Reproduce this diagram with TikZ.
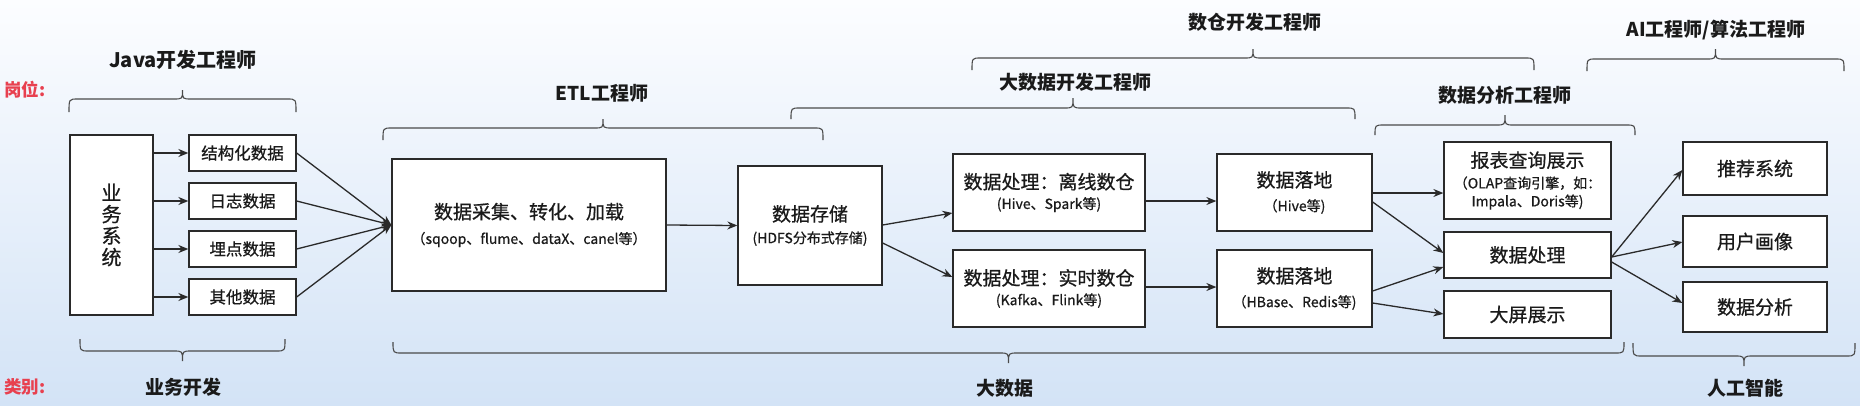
\documentclass[tikz,border=0pt]{standalone}
\usepackage{fontspec}
\setmainfont{Noto Sans CJK SC}
\newfontfamily\boxfont{Noto Sans CJK SC}[FakeBold=0.7]
\usetikzlibrary{arrows.meta,calc}
\definecolor{ln}{HTML}{2A2A2A}
\definecolor{txt}{HTML}{1A1A1A}
\definecolor{redlbl}{HTML}{E8404F}
\definecolor{bgtop}{RGB}{252,253,255}
\definecolor{bgmid}{RGB}{232,240,250}
\definecolor{bgbot}{RGB}{211,227,246}
% #1 x-left, #2 x-right, #3 y of the long line, #4 y of the ends, #5 y of the tip
\newcommand\curlybrace[5]{%
  \draw[brc] (#1,#4) .. controls (#1,#3) .. (#1+9,#3) -- ({(#1+#2)/2-9},#3)
    .. controls ({(#1+#2)/2},#3) .. ({(#1+#2)/2},#5)
    .. controls ({(#1+#2)/2},#3) .. ({(#1+#2)/2+9},#3) -- (#2-9,#3)
    .. controls (#2,#3) .. (#2,#4);}
\begin{document}
\begin{tikzpicture}[x=1pt,y=-1pt,
  box/.style={draw=ln,line width=1.3pt,fill=white,text=txt,align=center,inner sep=0pt},
  arr/.style={draw=ln,line width=1.3pt,-{Stealth[length=10pt,width=8pt]}},
  brc/.style={draw=ln!85,line width=1.1pt},
  lbl/.style={font=\bfseries\fontsize{19}{22}\selectfont,text=txt,inner sep=0pt},
  cat/.style={font=\bfseries\fontsize{17.5}{20}\selectfont,text=redlbl,inner sep=0pt,anchor=west},
  bigtxt/.style={font=\boxfont\fontsize{19}{22}\selectfont},
  smalltxt/.style={font=\boxfont\fontsize{16.5}{20}\selectfont}]
\useasboundingbox (0,0) rectangle (1860,405);
\fill[top color=bgtop,middle color=bgmid,bottom color=bgbot] (0,0) rectangle (1860,405);

% ---------- boxes ----------
\node[box,font=\boxfont\fontsize{20}{21.5}\selectfont,minimum width=83pt,minimum height=180pt] (ywxt) at (111.5,225) {业\\务\\系\\统};
\node[box,smalltxt,minimum width=107pt,minimum height=36pt] (s1) at (242.5,153) {结构化数据};
\node[box,smalltxt,minimum width=107pt,minimum height=36pt] (s2) at (242.5,201) {日志数据};
\node[box,smalltxt,minimum width=107pt,minimum height=36pt] (s3) at (242.5,249) {埋点数据};
\node[box,smalltxt,minimum width=107pt,minimum height=36pt] (s4) at (242.5,297) {其他数据};

\node[box,font=\boxfont\fontsize{19}{25}\selectfont,minimum width=274pt,minimum height=132pt] (etl) at (529,225)
  {数据采集、转化、加载\\{\fontsize{14}{16}\selectfont （sqoop、flume、dataX、canel等）}};
\node[box,font=\boxfont\fontsize{19}{22}\selectfont,minimum width=144pt,minimum height=119pt] (store) at (810,225.5)
  {数据存储\\{\fontsize{14}{16}\selectfont (HDFS分布式存储)}};

\node[box,font=\boxfont\fontsize{19}{20}\selectfont,minimum width=192pt,minimum height=77pt] (off) at (1049,192.5)
  {数据处理：离线数仓\\{\fontsize{14}{16}\selectfont (Hive、Spark等)}};
\node[box,font=\boxfont\fontsize{19}{20}\selectfont,minimum width=192pt,minimum height=77pt] (rt) at (1049,288.5)
  {数据处理：实时数仓\\{\fontsize{14}{16}\selectfont (Kafka、Flink等)}};
\node[box,font=\boxfont\fontsize{19}{24}\selectfont,minimum width=155pt,minimum height=77pt] (land1) at (1294.5,192.5)
  {数据落地\\{\fontsize{14}{16}\selectfont （Hive等)}};
\node[box,font=\boxfont\fontsize{19}{24}\selectfont,minimum width=155pt,minimum height=77pt] (land2) at (1294.5,288.5)
  {数据落地\\{\fontsize{14}{16}\selectfont （HBase、Redis等)}};

\node[box,font=\boxfont\fontsize{19}{22}\selectfont,minimum width=167pt,minimum height=77pt] (rpt) at (1527.5,180.5)
  {报表查询展示\\[-1pt]{\fontsize{14}{16}\selectfont （OLAP查询引擎，如：}\\[-4pt]{\fontsize{14}{16}\selectfont Impala、Doris等)}};
\node[box,bigtxt,minimum width=167pt,minimum height=46pt] (proc) at (1527.5,255) {数据处理};
\node[box,bigtxt,minimum width=167pt,minimum height=47pt] (bigs) at (1527.5,314.5) {大屏展示};

\node[box,bigtxt,minimum width=144pt,minimum height=53pt] (rec) at (1755,168.5) {推荐系统};
\node[box,bigtxt,minimum width=144pt,minimum height=51pt] (user) at (1755,241.5) {用户画像};
\node[box,bigtxt,minimum width=144pt,minimum height=50pt] (ana) at (1755,307) {数据分析};

% ---------- connectors ----------
\foreach \s in {s1,s2,s3,s4}{
  \draw[arr] (ywxt.east |- \s.west) -- (\s.west);
  \draw[arr] (\s.east) -- (etl.west);
}
\draw[arr] (etl.east) -- (store.west);
\draw[arr] ($(store.east)+(0,-0.5)$) -- ($(off.west)+(0,20.5)$);
\draw[arr] ($(store.east)+(0,17.5)$) -- ($(rt.west)+(0,-11.5)$);
\draw[arr] ($(off.east)+(0,8.5)$) -- ($(land1.west)+(0,8.5)$);
\draw[arr] ($(rt.east)+(0,-1.5)$) -- ($(land2.west)+(0,-1.5)$);
\draw[arr] ($(land1.east)+(0,0.5)$) -- ($(rpt.west)+(0,12.5)$);
\draw[arr] ($(land1.east)+(0,9.5)$) -- ($(proc.west)+(0,-2)$);
\draw[arr] ($(land2.east)+(0,2.5)$) -- ($(proc.west)+(0,12)$);
\draw[arr] ($(land2.east)+(0,14.5)$) -- ($(bigs.west)+(0,-0.5)$);
\draw[arr] ($(proc.east)+(0,2)$) -- ($(rec.west)+(0,1.5)$);
\draw[arr] ($(proc.east)+(0,2)$) -- ($(user.west)+(0,0.5)$);
\draw[arr] ($(proc.east)+(0,7)$) -- ($(ana.west)+(0,-4)$);

% ---------- braces (roles, top) ----------
\curlybrace{69}{296}{99}{112}{90}
\curlybrace{383}{823}{128}{140}{119}
\curlybrace{791}{1355}{108}{119}{98}
\curlybrace{972}{1534}{58}{70}{49}
\curlybrace{1375}{1635}{125}{135}{115}
\curlybrace{1587}{1844}{59}{71}{49}
% ---------- braces (categories, bottom) ----------
\curlybrace{80}{285}{351}{339}{361}
\curlybrace{393}{1624}{353}{342}{363}
\curlybrace{1633}{1855}{356}{343}{366}

% ---------- labels ----------
\node[cat] (gw) at (4,90) {岗位:};
\node[cat] (lb) at (4,387) {类别:};
\node[lbl,font=\bfseries\fontsize{20}{22}\selectfont] (ljava) at (183,60) {Java开发工程师};
\node[lbl] (letl) at (602,93) {ETL工程师};
\node[lbl] (lbd) at (1075,82) {大数据开发工程师};
\node[lbl] (lsc) at (1255,22) {数仓开发工程师};
\node[lbl] (lsj) at (1505,95) {数据分析工程师};
\node[lbl] (lai) at (1716,30) {AI工程师/算法工程师};
\node[lbl] (cyw) at (183,387) {业务开发};
\node[lbl] (cbd) at (1005,388) {大数据};
\node[lbl] (cai) at (1745,388) {人工智能};
\end{tikzpicture}
\end{document}
